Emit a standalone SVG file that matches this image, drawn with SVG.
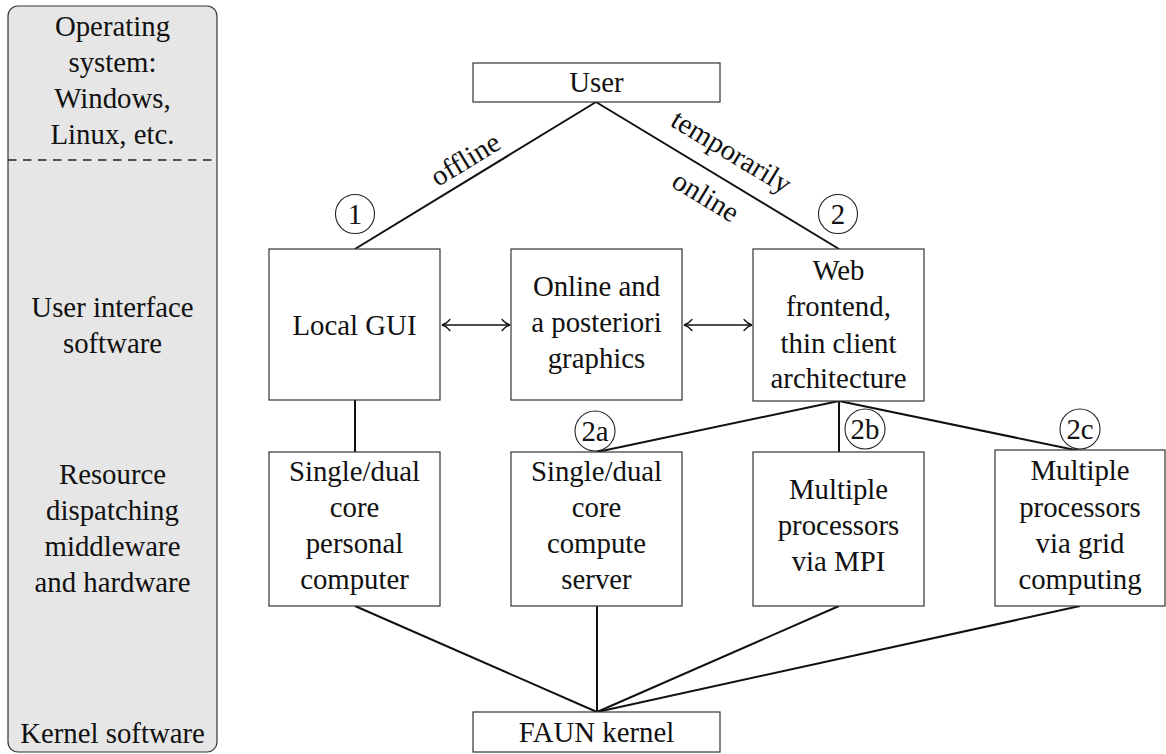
<svg xmlns="http://www.w3.org/2000/svg" width="1166" height="754" viewBox="0 0 1166 754">
<style>
.box{fill:#fff;stroke:#333;stroke-width:1.2}
.t{font-family:'Liberation Serif','Nimbus Roman','Nimbus Roman No9 L','Times New Roman',Times,'DejaVu Serif',serif;font-size:28.8px;fill:#111;text-anchor:middle}
.c{fill:none;stroke:#111;stroke-width:2}
.a{fill:none;stroke:#111;stroke-width:1.4}
.circ{fill:none;stroke:#222;stroke-width:1.1}
</style>
<defs>
<marker id="tip" viewBox="-10 -7 12 14" refX="0" refY="0" markerWidth="12" markerHeight="14" markerUnits="userSpaceOnUse" orient="auto-start-reverse">
<path d="M-8,-5.5 C-5,-2 -2,-0.5 0,0 C-2,0.5 -5,2 -8,5.5" fill="none" stroke="#111" stroke-width="1.3" stroke-linecap="round"/>
</marker>
</defs>

<g id="layers">
<rect x="8" y="6" width="209" height="746" rx="10" fill="#e6e6e6" stroke="#333" stroke-width="1.2"/>
<line x1="8" y1="160" x2="217" y2="160" stroke="#222" stroke-width="1.5" stroke-dasharray="8.5 6.5"/>
<text class="t"><tspan x="112.5" y="35.5">Operating</tspan><tspan x="112.5" y="71.5">system:</tspan><tspan x="112.5" y="107.5">Windows,</tspan><tspan x="112.5" y="143.5">Linux, etc.</tspan></text>
<text class="t"><tspan x="112.5" y="317">User interface</tspan><tspan x="112.5" y="353">software</tspan></text>
<text class="t"><tspan x="112.5" y="484">Resource</tspan><tspan x="112.5" y="520">dispatching</tspan><tspan x="112.5" y="556">middleware</tspan><tspan x="112.5" y="592">and hardware</tspan></text>
<text class="t" x="112.5" y="743">Kernel software</text>
</g>

<g id="connectors">
<line class="c" x1="596" y1="102" x2="355" y2="249"/>
<line class="c" x1="596" y1="102" x2="839" y2="249"/>
<line class="c" x1="355" y1="400" x2="355" y2="452"/>
<line class="c" x1="839" y1="401" x2="597" y2="452"/>
<line class="c" x1="839" y1="401" x2="839" y2="452"/>
<line class="c" x1="839" y1="401" x2="1080" y2="451"/>
<line class="c" x1="355" y1="606" x2="597" y2="712"/>
<line class="c" x1="597" y1="606" x2="597" y2="712"/>
<line class="c" x1="839" y1="606" x2="597" y2="712"/>
<line class="c" x1="1080" y1="606" x2="597" y2="712"/>
<line class="a" x1="442" y1="325" x2="510" y2="325" marker-start="url(#tip)" marker-end="url(#tip)"/>
<line class="a" x1="684" y1="325" x2="752" y2="325" marker-start="url(#tip)" marker-end="url(#tip)"/>
<text class="t" transform="translate(470.2,167.5) rotate(-31.4)" x="0" y="0">offline</text>
<text class="t" transform="translate(726.5,159.7) rotate(31.17)" x="0" y="0">temporarily</text>
<text class="t" transform="translate(700.9,204.5) rotate(31.17)" x="0" y="0">online</text>
</g>

<g id="user"><rect class="box" x="473" y="63" width="247" height="39"/><text class="t" x="596.5" y="92">User</text></g>

<g id="mark1"><circle class="circ" cx="355" cy="214" r="19.5"/><text class="t" x="355" y="224">1</text></g>
<g id="mark2"><circle class="circ" cx="838" cy="214" r="19.5"/><text class="t" x="838" y="224">2</text></g>

<g id="localgui"><rect class="box" x="269" y="249" width="171" height="151"/><text class="t" x="354.5" y="335">Local GUI</text></g>
<g id="graphics"><rect class="box" x="511" y="249" width="171" height="151"/><text class="t"><tspan x="596.5" y="296">Online and</tspan><tspan x="596.5" y="332">a posteriori</tspan><tspan x="596.5" y="368">graphics</tspan></text></g>
<g id="web"><rect class="box" x="753" y="249" width="171" height="152"/><text class="t"><tspan x="838.5" y="280">Web</tspan><tspan x="838.5" y="316">frontend,</tspan><tspan x="838.5" y="352.5">thin client</tspan><tspan x="838.5" y="388">architecture</tspan></text></g>

<g id="mark2a"><circle class="circ" cx="595" cy="431" r="20"/><text class="t" x="595" y="441">2a</text></g>
<g id="mark2b"><circle class="circ" cx="865" cy="429" r="20"/><text class="t" x="865" y="439">2b</text></g>
<g id="mark2c"><circle class="circ" cx="1080" cy="429" r="20"/><text class="t" x="1080" y="439">2c</text></g>

<g id="pc"><rect class="box" x="269" y="452" width="171" height="154"/><text class="t"><tspan x="354.5" y="481">Single/dual</tspan><tspan x="354.5" y="517">core</tspan><tspan x="354.5" y="553">personal</tspan><tspan x="354.5" y="589">computer</tspan></text></g>
<g id="server"><rect class="box" x="511" y="452" width="171" height="154"/><text class="t"><tspan x="596.5" y="481">Single/dual</tspan><tspan x="596.5" y="517">core</tspan><tspan x="596.5" y="553">compute</tspan><tspan x="596.5" y="589">server</tspan></text></g>
<g id="mpi"><rect class="box" x="753" y="452" width="171" height="154"/><text class="t"><tspan x="838.5" y="499">Multiple</tspan><tspan x="838.5" y="535">processors</tspan><tspan x="838.5" y="571">via MPI</tspan></text></g>
<g id="grid"><rect class="box" x="995" y="450" width="170" height="156"/><text class="t"><tspan x="1080" y="480">Multiple</tspan><tspan x="1080" y="516.5">processors</tspan><tspan x="1080" y="553">via grid</tspan><tspan x="1080" y="589">computing</tspan></text></g>

<g id="faun"><rect class="box" x="473" y="712" width="247" height="40"/><text class="t" x="596.5" y="742">FAUN kernel</text></g>
</svg>
